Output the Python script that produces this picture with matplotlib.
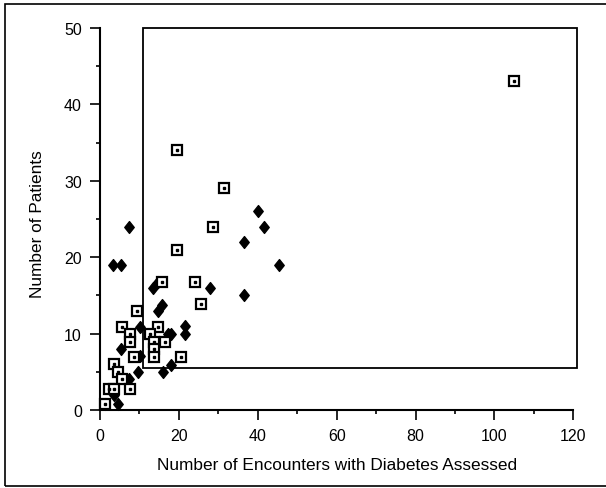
import matplotlib
matplotlib.use("Agg")
import matplotlib.pyplot as plt
from matplotlib.patches import Rectangle
from matplotlib.path import Path

plt.rcParams['font.family'] = ['Liberation Sans', 'DejaVu Sans']

# filled diamonds
dia_x = [7.4, 3.2, 5.3, 40, 41.5, 36.5, 45.5, 28, 36.5, 13.5, 14.8, 15.6, 14.8,
         10.2, 17.2, 17.9, 21.5, 21.5, 5.4, 10.2, 9.6, 16, 17.9, 7.4, 3.6, 4.6, 1.2]
dia_y = [24, 19, 19, 26, 24, 22, 19, 16, 15, 16, 16.8, 13.8, 12.9,
         10.9, 10, 10, 11, 9.9, 8, 7.1, 5, 5, 5.9, 4, 2, 0.8, 0.8]

# open squares with a dot
sq_x = [105, 19.5, 31.5, 28.6, 19.6, 15.7, 24, 25.5, 9.3, 5.5, 14.6, 7.6, 12.6,
        7.6, 13.6, 16.6, 13.6, 13.6, 20.6, 8.5, 3.6, 4.6, 5.5, 7.5, 2.4, 3.6, 1.2]
sq_y = [43, 34, 29, 24, 21, 16.8, 16.8, 13.9, 12.9, 10.9, 10.9, 10, 10,
        8.9, 8.9, 8.9, 8, 7, 7, 7, 6, 5, 4, 2.8, 2.8, 2.8, 0.8]

# region box drawn on the plot
box_x0, box_y0, box_x1, box_y1 = 11, 5.5, 121, 50

diamond = Path([(0, 1), (0.8, 0), (0, -1), (-0.8, 0), (0, 1)],
               [Path.MOVETO, Path.LINETO, Path.LINETO, Path.LINETO, Path.CLOSEPOLY])

fig = plt.figure(figsize=(6.06, 4.89), dpi=100)
ax = fig.add_axes([0.165, 0.1595, 0.781, 0.7812])

ax.plot(dia_x, dia_y, linestyle='none', marker=diamond, markersize=8.5,
        color='black', clip_on=False, zorder=3)
ax.plot(sq_x, sq_y, linestyle='none', marker='s', markersize=6.5,
        markerfacecolor='white', markeredgecolor='black', markeredgewidth=1.6,
        clip_on=False, zorder=4)
ax.plot(sq_x, sq_y, linestyle='none', marker='s', markersize=1.6,
        color='black', clip_on=False, zorder=5)

ax.add_patch(Rectangle((box_x0, box_y0), box_x1 - box_x0, box_y1 - box_y0,
                       fill=False, edgecolor='black', linewidth=1.3, clip_on=False))

ax.set_xlim(0, 120)
ax.set_ylim(0, 50)
ax.set_xticks(range(0, 121, 20))
ax.set_xticks(range(10, 120, 20), minor=True)
ax.set_yticks(range(0, 51, 10))
ax.set_yticks(range(5, 50, 10), minor=True)

for s in ['top', 'right']:
    ax.spines[s].set_visible(False)
for s in ['left', 'bottom']:
    ax.spines[s].set_linewidth(1.5)

ax.tick_params(which='major', length=7, width=1.2, labelsize=11.5, pad=6)
ax.tick_params(which='minor', length=3, width=1.2)

ax.set_xlabel("Number of Encounters with Diabetes Assessed", fontsize=12.4, labelpad=10)
ax.set_ylabel("Number of Patients", fontsize=12.4)
ax.yaxis.set_label_coords(-0.117, 0.49)

fig.patches.append(Rectangle((5 / 606, 2 / 489), 1.1, 482 / 489, transform=fig.transFigure,
                             fill=False, edgecolor='black', linewidth=1.2))

fig.savefig("out.png", dpi=100)
